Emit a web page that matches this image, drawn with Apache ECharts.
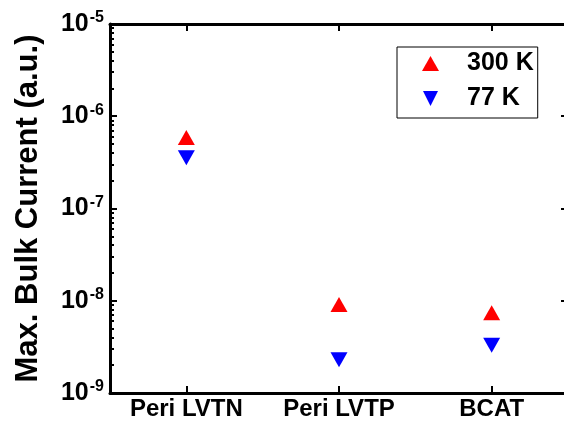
<!DOCTYPE html>
<html>
<head>
<meta charset="utf-8">
<script src="https://cdn.jsdelivr.net/npm/echarts@6/dist/echarts.min.js"></script>
<style>
html,body{margin:0;padding:0;background:#fff;}
#c{width:564px;height:423px;}
</style>
</head>
<body>
<div id="c"></div>
<script>
var categories = ['Peri LVTN', 'Peri LVTP', 'BCAT'];
var series300K = [5.9e-7, 9.1e-9, 7.4e-9];
var series77K = [3.55e-7, 2.3e-9, 3.3e-9];
var majorTicks = [1e-9, 1e-8, 1e-7, 1e-6, 1e-5];
var minorTicks = [];
for (var d = -9; d < -5; d++) {
  for (var k = 2; k <= 9; k++) minorTicks.push(k * Math.pow(10, d));
}

var font = 'Liberation Sans, Arial, sans-serif';
var chart = echarts.init(document.getElementById('c'), null, {renderer: 'canvas'});

function expLabel(v) {
  var e = Math.round(Math.log10(v));
  return '{b|10}{s|' + e + '}';
}

var lineStyle = {color: '#000', width: 3};
var baseY = {
  type: 'log', logBase: 10, min: 1e-9, max: 1e-5,
  splitLine: {show: false}, minorTick: {show: false}, minorSplitLine: {show: false}
};

var option = {
  animation: false,
  backgroundColor: '#fff',
  grid: {left: 110, top: 24, width: 458, bottom: 30, containLabel: false, outerBoundsMode: 'none'},
  legend: {
    orient: 'vertical',
    left: 397, top: 47,
    padding: [4, 4, 7, 25],
    borderColor: '#000', borderWidth: 1,
    itemWidth: 17, itemHeight: 15, itemGap: 10,
    textStyle: {fontFamily: font, fontSize: 25, fontWeight: 'bold', color: '#000', padding: [0, 1, 0, 23]},
    data: [
      {name: '300 K', icon: 'triangle'},
      {name: '77 K', icon: 'path://M0,0L10,0L5,10Z'}
    ]
  },
  xAxis: [
    {
      type: 'category', data: categories, position: 'bottom', boundaryGap: true,
      axisLine: {show: true, lineStyle: lineStyle},
      axisTick: {show: true, inside: true, alignWithLabel: true, length: 7, lineStyle: {width: 2, color: '#000'}},
      axisLabel: {margin: 4, fontFamily: font, fontSize: 24, fontWeight: 'bold', color: '#000'},
      splitLine: {show: false}
    },
    {
      type: 'category', data: categories, position: 'top', boundaryGap: true,
      axisLine: {show: true, lineStyle: lineStyle},
      axisTick: {show: true, inside: true, alignWithLabel: true, length: 7, lineStyle: {width: 2, color: '#000'}},
      axisLabel: {show: false},
      splitLine: {show: false}
    }
  ],
  yAxis: [
    Object.assign({}, baseY, {
      position: 'left',
      name: 'Max. Bulk Current (a.u.)',
      nameLocation: 'middle', nameGap: 66, nameRotate: 90,
      nameTextStyle: {fontFamily: font, fontSize: 31, fontWeight: 'bold', color: '#000'},
      axisLine: {show: true, lineStyle: lineStyle},
      axisTick: {show: true, inside: true, length: 7, customValues: majorTicks, lineStyle: {width: 2, color: '#000'}},
      axisLabel: {
        show: true, margin: 6, customValues: majorTicks, formatter: expLabel,
        rich: {
          b: {fontFamily: font, fontSize: 25, fontWeight: 'bold', color: '#000'},
          s: {fontFamily: font, fontSize: 16, fontWeight: 'bold', color: '#000', verticalAlign: 'top', padding: [0, 0, 12, 1]}
        }
      }
    }),
    Object.assign({}, baseY, {
      position: 'left',
      axisLine: {show: false},
      axisTick: {show: true, inside: true, length: 4, customValues: minorTicks, lineStyle: {width: 2, color: '#000'}},
      axisLabel: {show: false}
    }),
    Object.assign({}, baseY, {
      position: 'right',
      axisLine: {show: true, lineStyle: lineStyle},
      axisTick: {show: true, inside: true, length: 7, customValues: majorTicks, lineStyle: {width: 2, color: '#000'}},
      axisLabel: {show: false}
    }),
    Object.assign({}, baseY, {
      position: 'right',
      axisLine: {show: false},
      axisTick: {show: true, inside: true, length: 4, customValues: minorTicks, lineStyle: {width: 2, color: '#000'}},
      axisLabel: {show: false}
    })
  ],
  series: [
    {
      name: '300 K', type: 'scatter', xAxisIndex: 0, yAxisIndex: 0,
      symbol: 'triangle', symbolSize: [17, 15],
      itemStyle: {color: '#ff0000', opacity: 1},
      emphasis: {disabled: true},
      data: series300K
    },
    {
      name: '77 K', type: 'scatter', xAxisIndex: 0, yAxisIndex: 0,
      symbol: 'path://M0,0L10,0L5,10Z', symbolSize: [17, 15],
      itemStyle: {color: '#0000ff', opacity: 1},
      emphasis: {disabled: true},
      data: series77K
    }
  ]
};
chart.setOption(option);
</script>
</body>
</html>
